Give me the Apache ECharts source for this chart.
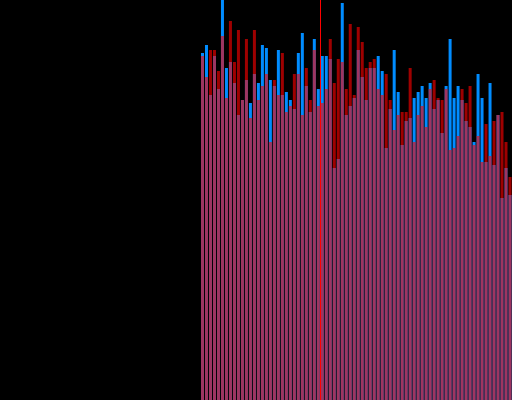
<!DOCTYPE html>
<html>
<head>
<meta charset="utf-8">
<style>html,body{margin:0;padding:0;background:#000;}#c{width:512px;height:400px;}</style>
<script src="https://cdn.jsdelivr.net/npm/echarts@6/dist/echarts.min.js"></script>
</head>
<body>
<div id="c"></div>
<script>
var categories = [];
for (var k = 0; k < 78; k++) categories.push(String(k + 1));
var blueValues = [347,355,305,344,311,400,332,338,317,285,300,
  320,297,326,317,355,352,320,314,350,305,308,
  300,291,347,367,314,288,361,311,344,344,341,
  232,241,397,285,294,302,350,323,300,332,332,
  344,329,252,291,350,308,255,279,282,302,308,
  314,302,317,291,300,267,314,361,302,314,300,
  279,273,258,326,302,238,317,235,285,202,232,205];
var redValues = [344,323,350,350,329,364,302,379,338,370,300,
  361,282,370,300,314,326,258,320,305,347,288,
  294,326,326,285,332,300,350,294,297,311,361,
  317,341,338,311,376,305,373,358,332,338,341,
  311,305,326,300,270,285,288,288,332,258,285,
  294,273,311,320,302,300,311,250,252,264,311,
  297,314,255,264,238,276,244,279,285,288,258,223];
var yMin = 0, yMax = 400;
var markerBoundary = 30;

var chart = echarts.init(document.getElementById('c'), null, {renderer: 'canvas'});
chart.setOption({
  backgroundColor: '#000000',
  animation: false,
  grid: {left: 200.5, top: 0, width: 312, height: 400, containLabel: false},
  xAxis: [
    {type: 'category', data: categories, show: false, boundaryGap: true},
    {type: 'value', min: 0, max: categories.length, show: false}
  ],
  yAxis: {type: 'value', min: yMin, max: yMax, show: false},
  series: [
    {type: 'bar', name: 'blue', data: blueValues, barWidth: 3, barGap: '-100%',
     itemStyle: {color: '#008cff'}, z: 2},
    {type: 'bar', name: 'red', data: redValues, barWidth: 3, barGap: '-100%',
     itemStyle: {color: 'rgba(255,0,0,0.62)'}, z: 3},
    {type: 'line', xAxisIndex: 1, data: [], z: 5,
     markLine: {symbol: ['none', 'none'], silent: true, label: {show: false},
       lineStyle: {color: '#ff0000', width: 1, type: 'solid', opacity: 1},
       data: [{xAxis: markerBoundary}]}}
  ]
});
</script>
</body>
</html>
